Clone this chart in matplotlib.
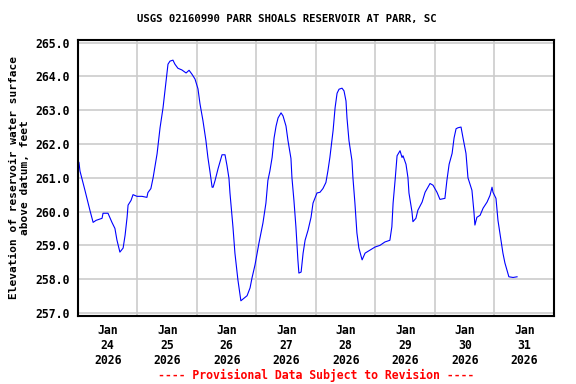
import matplotlib
matplotlib.use("Agg")
import matplotlib.pyplot as plt
import numpy as np
import pandas as pd

# hours since 2026-01-24 00:00 and reservoir elevation (ft)
hours = [0, 0.4, 0.8, 2.8, 4.8, 6.1, 7.3, 9.7, 10.1, 12.1, 13.7, 14.9, 15.7, 16.9,
         18.2, 19.0, 19.8, 20.2, 21.4, 22.2, 23.8, 25.8, 27.8, 28.2, 29.4, 30.3,
         31.9, 33.1, 34.3, 35.5, 36.3, 37.1, 38.3, 39.1, 40.3, 41.9, 43.6, 44.8,
         46.0, 47.2, 48.4, 49.2, 50.4, 51.6, 52.4, 53.2, 54.1, 54.5, 55.3, 56.1,
         56.5, 58.1, 59.3, 60.1, 60.9, 61.3, 62.5, 63.3, 64.5, 65.7, 68.2, 69.4,
         70.2, 71.4, 73.0, 74.6, 75.8, 76.6, 77.4, 78.3, 79.1, 79.9, 80.7, 81.9,
         82.7, 83.9, 84.7, 85.9, 86.3, 87.1, 87.9, 88.7, 89.1, 90.0, 90.8, 91.6,
         92.8, 94.0, 94.8, 96.4, 97.6, 98.8, 100.0, 100.8, 101.6, 102.9, 103.7,
         104.5, 105.3, 106.5, 107.3, 108.1, 108.5, 109.3, 110.5, 110.9, 111.7,
         112.5, 113.3, 114.6, 115.8, 117.8, 119.8, 121.8, 123.8, 125.8, 126.6,
         127.1, 127.9, 128.7, 129.9, 130.7, 131.1, 132.3, 133.1, 133.5, 134.7,
         135.1, 136.3, 137.1, 138.8, 140.0, 142.0, 143.2, 144.8, 146.0, 148.0,
         148.8, 149.7, 150.9, 151.7, 152.5, 153.3, 154.5, 155.3, 156.5, 157.3,
         158.9, 159.7, 160.1, 160.9, 162.2, 163.4, 165.0, 166.2, 167.0, 167.4,
         168.6, 169.4, 170.6, 171.4, 172.2, 173.0, 173.8, 175.5, 177.1]
elev = [261.5, 261.45, 261.2, 260.63, 260.04, 259.68, 259.74, 259.8, 259.95, 259.95,
        259.68, 259.5, 259.16, 258.8, 258.92, 259.3, 259.83, 260.19, 260.33, 260.5,
        260.45, 260.45, 260.42, 260.56, 260.68, 261.0, 261.71, 262.48, 263.07, 263.86,
        264.36, 264.45, 264.48, 264.36, 264.24, 264.19, 264.1, 264.18, 264.06, 263.92,
        263.63, 263.19, 262.69, 262.1, 261.6, 261.2, 260.72, 260.72, 260.92, 261.15,
        261.27, 261.68, 261.68, 261.36, 260.98, 260.55, 259.55, 258.77, 257.98, 257.36,
        257.51, 257.74, 258.04, 258.42, 259.07, 259.66, 260.25, 260.92, 261.2, 261.6,
        262.18, 262.53, 262.77, 262.92, 262.83, 262.53, 262.1, 261.57, 261.0, 260.33,
        259.55, 258.57, 258.18, 258.21, 258.77, 259.15, 259.45, 259.83, 260.25, 260.55,
        260.57, 260.68, 260.86, 261.2, 261.6, 262.4, 263.07, 263.5, 263.62, 263.65,
        263.57, 263.27, 262.77, 262.1, 261.51, 261.0, 260.25, 259.37, 258.92, 258.57,
        258.77, 258.86, 258.95, 259.0, 259.1, 259.15, 259.55, 260.25, 260.92, 261.65,
        261.8, 261.6, 261.65, 261.4, 261.0, 260.55, 260.0, 259.7, 259.8, 260.04,
        260.28, 260.57, 260.83, 260.78, 260.57, 260.36, 260.39, 260.92, 261.4, 261.72,
        262.18, 262.45, 262.48, 262.5, 262.18, 261.72, 261.0, 260.63, 260.0, 259.6,
        259.83, 259.89, 260.1, 260.28, 260.48, 260.72, 260.57, 260.39, 259.74, 259.15,
        258.77, 258.48, 258.27, 258.07, 258.05, 258.07]

title = "USGS 02160990 PARR SHOALS RESERVOIR AT PARR, SC"
ylabel = "Elevation of reservoir water surface\nabove datum, feet"
footer = "---- Provisional Data Subject to Revision ----"
y_ticks = [257, 258, 259, 260, 261, 262, 263, 264, 265]

start = pd.Timestamp("2026-01-24")
t = start + pd.to_timedelta(hours, unit="h")

mono = "DejaVu Sans Mono"
fig = plt.figure(figsize=(5.76, 3.84), dpi=100)
ax = fig.add_axes([0.1354, 0.1771, 0.8264, 0.72])

ax.plot(t, elev, color="#0000ff", lw=0.8)

ax.set_xlim(start, start + pd.Timedelta(days=8))
ax.set_ylim(256.91, 265.09)
ax.set_yticks(y_ticks)
ax.set_yticklabels([f"{v:.1f}" for v in y_ticks], family=mono, weight="bold", fontsize=8.3)

# labels at noon, grid lines at midnight
noons = [start + pd.Timedelta(hours=12 + 24 * i) for i in range(8)]
mids = [start + pd.Timedelta(days=i) for i in range(1, 8)]
ax.set_xticks(noons)
ax.set_xticklabels([f"{d:%b}\n{d.day}\n{d:%Y}" for d in noons],
                   family=mono, weight="bold", fontsize=8.3, linespacing=1.2)
ax.set_xticks(mids, minor=True)

ax.tick_params(axis="both", which="both", length=0)
ax.tick_params(axis="y", pad=6)
ax.tick_params(axis="x", pad=6)
ax.grid(False)
ax.grid(True, axis="x", which="minor", color="#cccccc", lw=1.2)
ax.grid(True, axis="y", which="major", color="#cccccc", lw=1.2)
ax.set_axisbelow(True)
for s in ax.spines.values():
    s.set_linewidth(1.5)
    s.set_color("black")

ax.set_ylabel(ylabel, family=mono, weight="bold", fontsize=8.0, linespacing=1.05, labelpad=4)
fig.text(0.498, 0.951, title, family=mono, weight="bold", fontsize=7.7,
         ha="center", va="center")
fig.text(0.548, 0.023, footer, family=mono, weight="bold", fontsize=8.3,
         color="red", ha="center", va="center")

fig.savefig("out.png", dpi=100)
